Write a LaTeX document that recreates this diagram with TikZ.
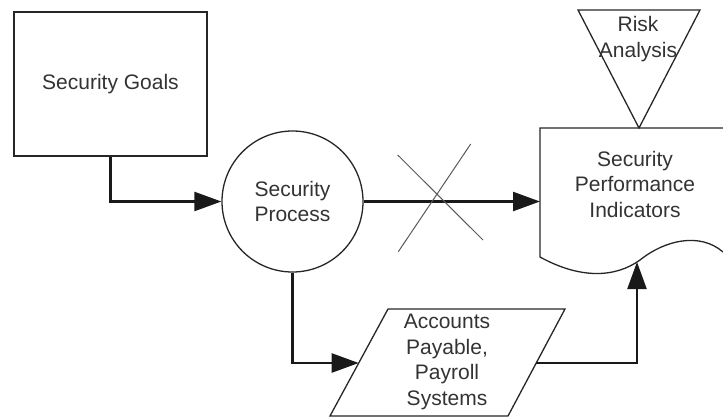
\documentclass[tikz,border=0pt]{standalone}
\usepackage{fontspec}
\setmainfont{Liberation Sans}
\usetikzlibrary{arrows.meta,calc}
\begin{document}
\begin{tikzpicture}[x=1pt,y=-1pt,
  shapeline/.style={draw=black!85, line width=1.3pt},
  conn/.style={draw=black!90, line width=2.4pt, -{Triangle[length=27pt,width=19pt]}},
  lbl/.style={text=black!80, font=\fontsize{21}{25.5}\selectfont, align=center, inner sep=0pt},
  cross/.style={draw=black!65, line width=1pt}]
\useasboundingbox (0,0) rectangle (723,418);
% Security Goals
\node[shapeline, rectangle, minimum width=193pt, minimum height=144pt, lbl] (goals) at (110.5,84) {Security Goals};
% Security Process
\node[shapeline, circle, minimum size=141pt, lbl] (proc) at (292.5,201.5) {Security\\Process};
% Risk Analysis (inverted triangle)
\draw[shapeline] (578,10) -- (700,10) -- (639,128) -- cycle;
\node[lbl] (risk) at (638,39) {Risk\\Analysis};
% Security Performance Indicators (document)
\draw[shapeline] (723,128) -- (540,128) -- (540,257)
  .. controls (580,279) and (615,278) .. (640,260)
  .. controls (665,240) and (700,232) .. (723,252);
\node[lbl] (doc) at (635,184) {Security\\Performance\\Indicators};
% Accounts Payable (parallelogram)
\draw[shapeline] (388,309) -- (565,309) -- (508,416) -- (330,416) -- cycle;
\node[lbl] (acc) at (447,362) {Accounts\\Payable,\\Payroll\\Systems};
% connector end points on drawn shapes
\coordinate (docL) at (540,201.5);
\coordinate (docB) at (637,262);
\coordinate (accL) at (358.7,363);
\coordinate (accR) at (536,363);
% connectors
\draw[conn] (goals.south) |- (proc.west);
\draw[conn] (proc.east) -- (docL);
\draw[conn] (proc.south) |- (accL);
\draw[conn] (accR) -| (docB);
% cross
\draw[cross] (397.7,155) -- (483,240);
\draw[cross] (470.7,144) -- (398.3,251.7);
\end{tikzpicture}
\end{document}
